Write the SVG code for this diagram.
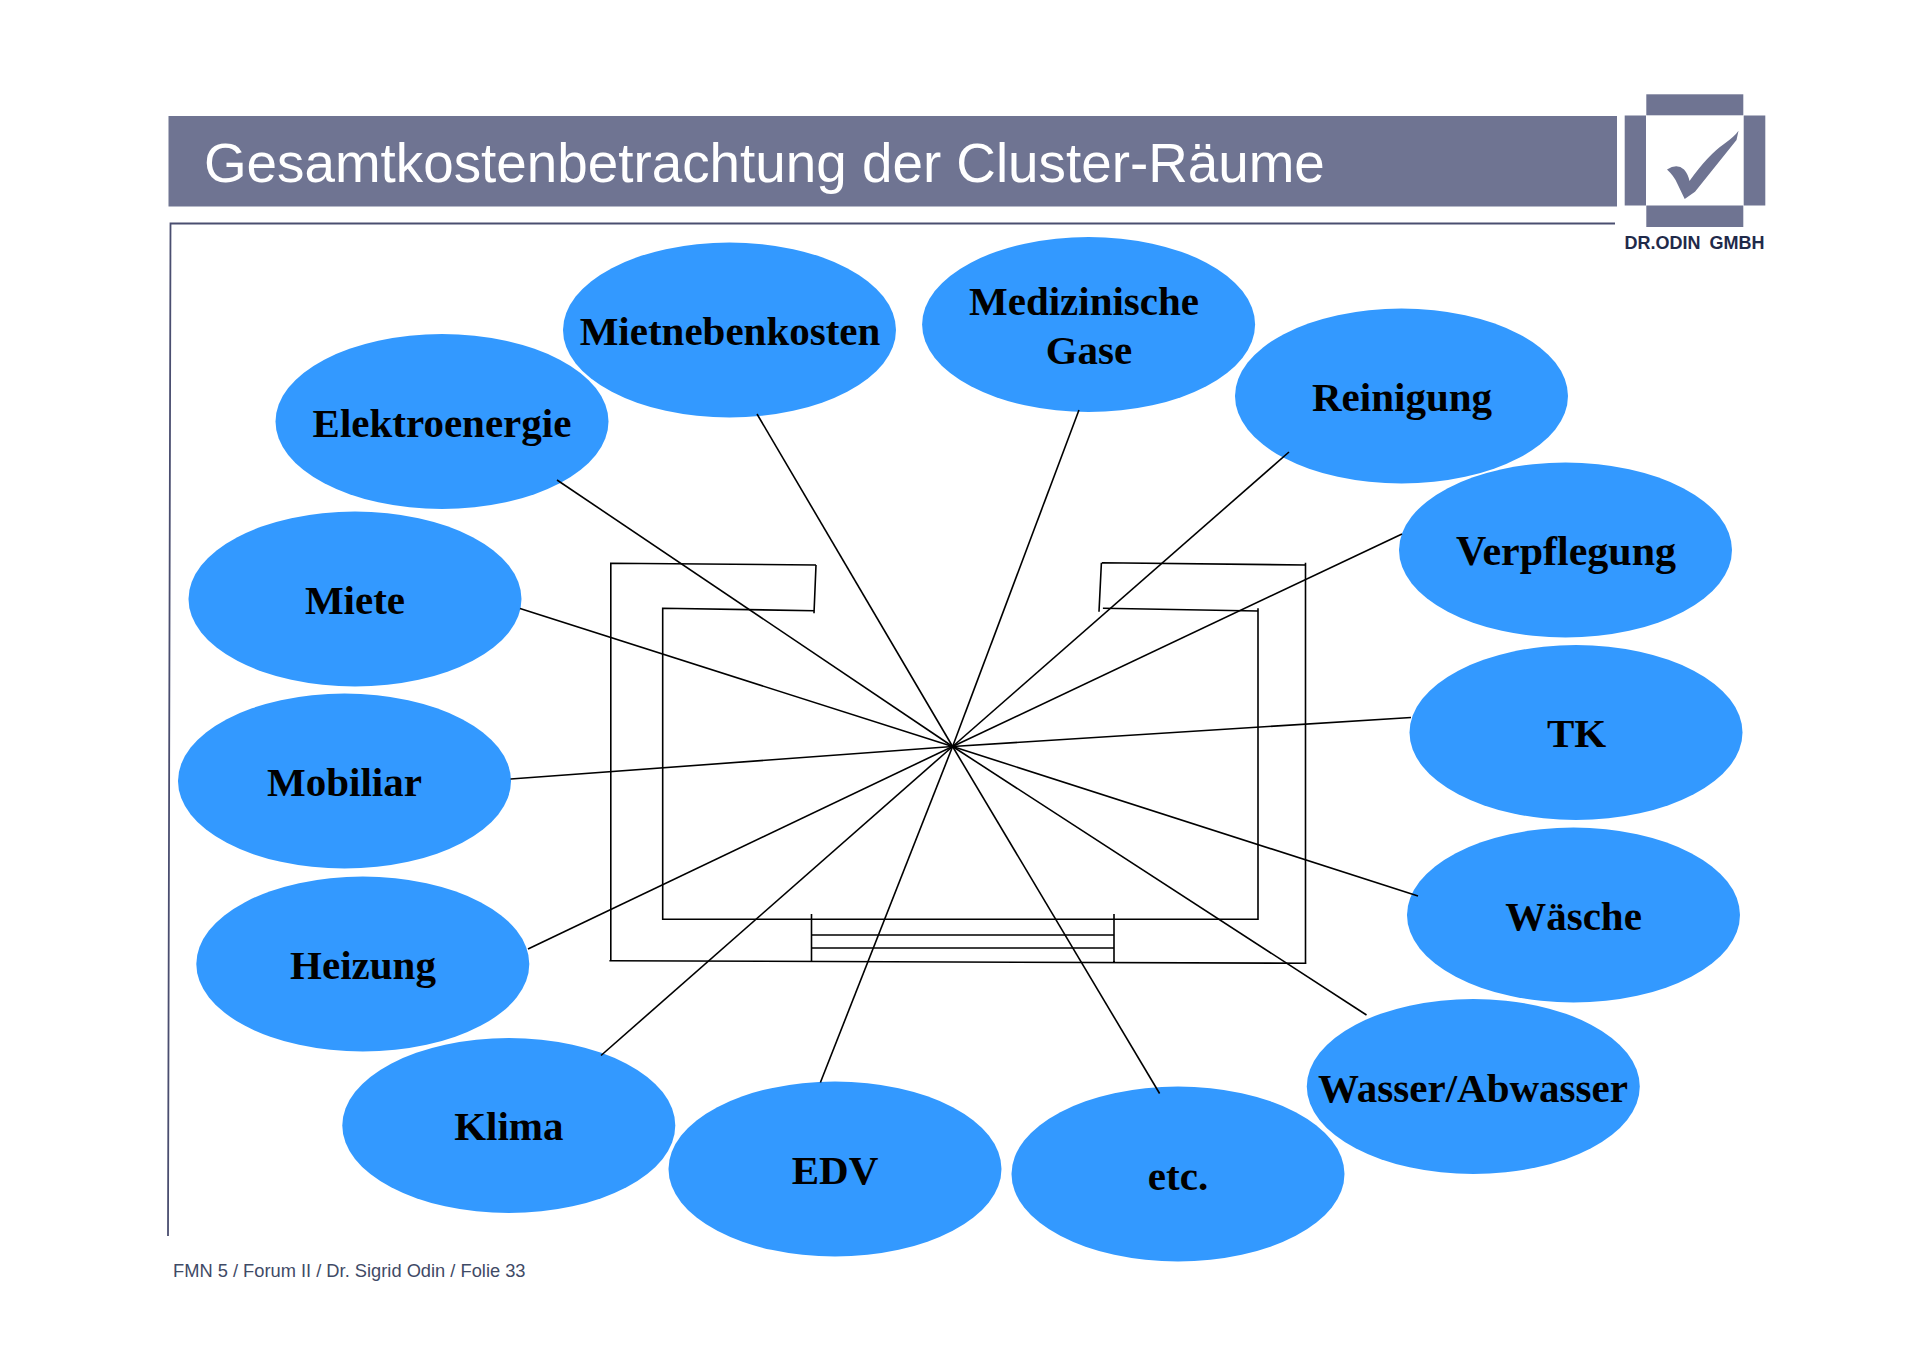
<svg xmlns="http://www.w3.org/2000/svg" width="1920" height="1357" viewBox="0 0 1920 1357">
<style>
.n{fill:#3399ff}
.l{font:bold 41px "Liberation Serif","Times New Roman",serif;fill:#000;text-anchor:middle}
.c line,.c path{stroke:#000;stroke-width:1.6;fill:none}
.b{fill:#6f7492}
</style>
<rect width="1920" height="1357" fill="#fff"/>
<g id="header">
<rect class="b" x="168.500" y="116" width="1448.500" height="90.500"/>
<text x="204" y="182" font-family="'Liberation Sans',Arial,sans-serif" font-size="54.800" fill="#fff">Gesamtkostenbetrachtung der Cluster-Räume</text>
<path d="M1615 223.500H170.500L168 1236" fill="none" stroke="#4a4e70" stroke-width="1.800"/>
</g>
<g id="logo">
<rect class="b" x="1646.300" y="94.300" width="97" height="21"/>
<rect class="b" x="1624.700" y="115.500" width="21.300" height="90"/>
<rect class="b" x="1743.700" y="115.500" width="21.600" height="90"/>
<rect class="b" x="1646.300" y="205.500" width="97" height="21.500"/>
<path class="b" d="M1667 169.500Q1677 163 1684 169.500Q1688 174 1689.500 181Q1708 155 1724 144Q1735 136 1738.500 130.700L1736.500 140L1695 191.700L1684.700 199L1677 183Q1674 176 1667 169.500Z"/>
<text x="1694.500" y="249.300" font-family="'Liberation Sans',Arial,sans-serif" font-size="18" font-weight="bold" fill="#1f2a4a" text-anchor="middle" word-spacing="4">DR.ODIN GMBH</text>
</g>
<g id="elektroenergie"><ellipse class="n" cx="442" cy="421.500" rx="166.500" ry="87.500"/><text class="l" x="442" y="437">Elektroenergie</text></g>
<g id="mietnebenkosten"><ellipse class="n" cx="729.500" cy="330" rx="166.500" ry="87.500"/><text class="l" x="730" y="345">Mietnebenkosten</text></g>
<g id="medizinische-gase"><ellipse class="n" cx="1088.600" cy="324.500" rx="166.500" ry="87.500"/><text class="l" x="1084" y="315">Medizinische</text><text class="l" x="1089" y="364">Gase</text></g>
<g id="reinigung"><ellipse class="n" cx="1401.500" cy="396" rx="166.500" ry="87.500"/><text class="l" x="1402" y="411">Reinigung</text></g>
<g id="verpflegung"><ellipse class="n" cx="1565.500" cy="550" rx="166.500" ry="87.500"/><text class="l" x="1566" y="565" style="font-size:42px">Verpflegung</text></g>
<g id="miete"><ellipse class="n" cx="355" cy="599" rx="166.500" ry="87.500"/><text class="l" x="355" y="614">Miete</text></g>
<g id="tk"><ellipse class="n" cx="1576" cy="732.500" rx="166.500" ry="87.500"/><text class="l" x="1576.500" y="747">TK</text></g>
<g id="mobiliar"><ellipse class="n" cx="344.500" cy="781" rx="166.500" ry="87.500"/><text class="l" x="344.500" y="796">Mobiliar</text></g>
<g id="waesche"><ellipse class="n" cx="1573.500" cy="915" rx="166.500" ry="87.500"/><text class="l" x="1573.500" y="930">Wäsche</text></g>
<g id="heizung"><ellipse class="n" cx="362.800" cy="964" rx="166.500" ry="87.500"/><text class="l" x="363" y="979">Heizung</text></g>
<g id="wasser-abwasser"><ellipse class="n" cx="1473.300" cy="1086.500" rx="166.500" ry="87.500"/><text class="l" x="1473" y="1101.500">Wasser/Abwasser</text></g>
<g id="klima"><ellipse class="n" cx="508.800" cy="1125.500" rx="166.500" ry="87.500"/><text class="l" x="508.800" y="1140">Klima</text></g>
<g id="edv"><ellipse class="n" cx="835" cy="1169" rx="166.500" ry="87.500"/><text class="l" x="835" y="1184">EDV</text></g>
<g id="etc"><ellipse class="n" cx="1178" cy="1174" rx="166.500" ry="87.500"/><text class="l" x="1178" y="1189.500">etc.</text></g>
<g id="connectors" class="c">
<path id="room" d="M816 565L610.800 563.300V960.700M609.400 960.700L1306.400 963.300M1305.500 562.700V963.300M1305.500 565L1101.900 562.700M1101.400 562.700L1099 611.700M816 565L814 613.300M814.400 610.700L662.700 608.300V919.300H1258V608.300M1258 611L1102.900 608.300M811.500 914V961.300M1114 914V963M811.500 935H1114M811.500 948H1114"/>
<line x1="952.600" y1="746.500" x2="557" y2="480"/>
<line x1="952.600" y1="746.500" x2="757" y2="414"/>
<line x1="952.600" y1="746.500" x2="1079" y2="410"/>
<line x1="952.600" y1="746.500" x2="1289" y2="452"/>
<line x1="952.600" y1="746.500" x2="1402" y2="534"/>
<line x1="952.600" y1="746.500" x2="1411" y2="717.500"/>
<line x1="952.600" y1="746.500" x2="1418" y2="896"/>
<line x1="952.600" y1="746.500" x2="1366.500" y2="1015"/>
<line x1="952.600" y1="746.500" x2="1159.600" y2="1093.500"/>
<line x1="952.600" y1="746.500" x2="820.400" y2="1082.500"/>
<line x1="952.600" y1="746.500" x2="601" y2="1055.500"/>
<line x1="952.600" y1="746.500" x2="528" y2="949"/>
<line x1="952.600" y1="746.500" x2="510.600" y2="779"/>
<line x1="952.600" y1="746.500" x2="520" y2="608.600"/>
</g>
<text x="173" y="1277" font-family="'Liberation Sans',Arial,sans-serif" font-size="18.300" fill="#3f4a66">FMN 5 / Forum II / Dr. Sigrid Odin / Folie 33</text>
</svg>
